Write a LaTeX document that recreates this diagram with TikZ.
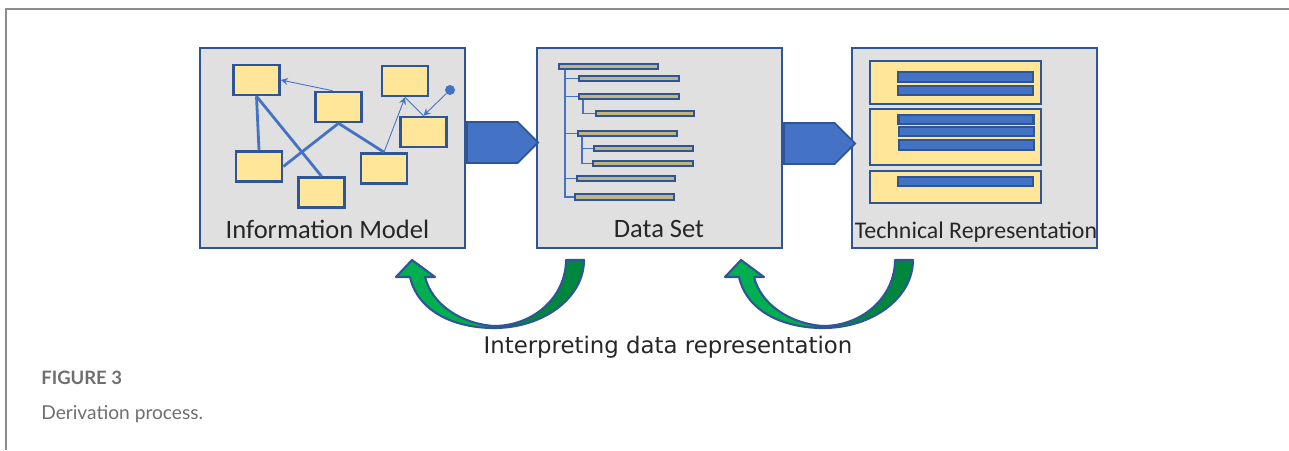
\documentclass[tikz,border=0pt]{standalone}
\usepackage{fontspec}
\setmainfont{Carlito}
\newfontfamily\notefont{DejaVu Sans}
\newfontfamily\captionfont{Lato}
\usetikzlibrary{shapes.symbols, arrows.meta, positioning, calc}
\definecolor{boxgray}{HTML}{E0E0E0}
\definecolor{edgeblue}{HTML}{2F5597}
\definecolor{fillblue}{HTML}{4472C4}
\definecolor{paleyellow}{HTML}{FFE699}
\definecolor{barcore}{HTML}{C2B57E}
\definecolor{lightgreen}{HTML}{00B050}
\definecolor{darkgreen}{HTML}{00873E}
\definecolor{framegray}{HTML}{8C8C8C}
\definecolor{captiongray}{HTML}{6E6E6E}

\begin{document}
\begin{tikzpicture}[
    x=0.02cm, y=-0.02cm,
    panel/.style={rectangle, draw=edgeblue, line width=1.4pt, fill=boxgray, minimum height=4cm, inner sep=0pt},
    entity/.style={rectangle, draw=edgeblue, line width=1.5pt, fill=paleyellow, minimum width=0.92cm, minimum height=0.6cm, inner sep=0pt},
    link/.style={draw=fillblue, line width=1.6pt},
    ref/.style={draw=fillblue, line width=0.5pt, -{Stealth[length=4pt, width=4pt]}},
    record/.style={rectangle, draw=edgeblue, line width=1.2pt, fill=barcore, minimum height=0.11cm, inner sep=0pt},
    tree/.style={draw=fillblue, line width=1.1pt},
    block/.style={rectangle, draw=edgeblue, line width=1pt, fill=paleyellow, minimum width=3.42cm, inner sep=0pt},
    field/.style={rectangle, draw=edgeblue, line width=1.2pt, fill=fillblue, minimum width=2.7cm, minimum height=0.19cm, inner sep=0pt},
    flow/.style={signal, signal to=east, draw=edgeblue, line width=1pt, fill=fillblue, minimum width=1.42cm, minimum height=0.82cm, inner sep=0pt, anchor=west},
    title/.style={anchor=base, inner sep=0pt, text=black!85},
    turn/.style={draw=edgeblue, line width=1.2pt, line join=round}
]
\useasboundingbox (0,0) rectangle (1289,450);

% Page frame
\draw[framegray, line width=1.2pt] (6,450) -- (6,9) -- (1289,9);

% Three stages
\node[panel, minimum width=5.3cm] (model) at (332.5,148) {};
\node[panel, minimum width=4.9cm] (dataset) at (659.5,148) {};
\node[panel, minimum width=4.9cm] (tech) at (974.5,148) {};

% Information model
\node[entity] (e1) at (256.5,80) {};
\node[entity] (e2) at (338.5,107) {};
\node[entity] (e3) at (405,81) {};
\node[entity] (e4) at (423.5,132) {};
\node[entity] (e5) at (259,166.5) {};
\node[entity] (e6) at (321.5,192.5) {};
\node[entity] (e7) at (384,168.5) {};
\node[circle, fill=fillblue, inner sep=0pt, minimum size=0.2cm] (origin) at (450,90) {};

\draw[link] (e1.south) -- (e5.north);
\draw[link] (e1.south) -- (e6.north);
\draw[link] (e5.east) -- (e2.south);
\draw[link] (e2.south) -- (e7.north);
\draw[ref] ([xshift=-0.12cm]e2.north) -- (e1.east);
\draw[ref] (e7.north) -- (e3.south);
\draw[draw=fillblue, line width=0.5pt] (e4.north) -- (e3.south);
\draw[ref] (origin) -- (e4.north);

% Data set
\node[record, minimum width=1.98cm] (b1) at (608.5,66.5) {};
\node[record, minimum width=2cm] (b2) at (629,78.5) {};
\node[record, minimum width=2cm] (b3) at (629,96.5) {};
\node[record, minimum width=1.96cm] (b4) at (645,113.5) {};
\node[record, minimum width=1.98cm] (b5) at (627.5,133.5) {};
\node[record, minimum width=1.98cm] (b6) at (643.5,148.5) {};
\node[record, minimum width=2cm] (b7) at (643,163.5) {};
\node[record, minimum width=1.96cm] (b8) at (626,178.5) {};
\node[record, minimum width=1.98cm] (b9) at (624.5,197) {};

\draw[tree] ([xshift=0.14cm]b1.south west) |- (b9.west);
\draw[tree] ([xshift=0.14cm]b1.south west) |- (b2.west);
\draw[tree] ([xshift=0.14cm]b1.south west) |- (b3.west);
\draw[tree] ([xshift=0.14cm]b1.south west) |- (b5.west);
\draw[tree] ([xshift=0.14cm]b1.south west) |- (b8.west);
\draw[tree] ([xshift=0.1cm]b3.south west) |- (b4.west);
\draw[tree] ([xshift=0.1cm]b5.south west) |- (b6.west);
\draw[tree] ([xshift=0.1cm]b5.south west) |- (b7.west);

% Technical representation
\node[block, minimum height=0.86cm] (p1) at (955.5,82.5) {};
\node[block, minimum height=1.12cm] (p2) at (955.5,137) {};
\node[block, minimum height=0.64cm] (p3) at (955.5,187) {};
\node[field] (f1) at (965.5,77) {};
\node[field] (f2) at (965.5,90.5) {};
\node[field] (f3) at (966,119.5) {};
\node[field] (f4) at (966.5,131.5) {};
\node[field] (f5) at (966.5,145) {};
\node[field] (f6) at (965.5,181.5) {};

% Labels
\node[title, font=\fontsize{15.1}{18}\selectfont] (modeltext) at (327.5,238) {Information Model};
\node[title, font=\fontsize{15.1}{18}\selectfont] (datatext) at (659,237) {Data Set};
\node[title, font=\fontsize{13.6}{16}\selectfont] (techtext) at (976,238) {Technical Representation};

% Derivation arrows
\node[flow] (flow1) at ([yshift=0.11cm]model.east) {};
\node[flow] (flow2) at ([yshift=0.09cm]dataset.east) {};

% Interpretation arrows
\foreach \dx in {0,329} {
  \begin{scope}[shift={(\dx,0)}]
    \path[turn, fill=darkgreen] (566,260) -- (584,260)
      .. controls (584,297.6) and (543.7,328) .. (494,328) -- (494,326)
      .. controls (533.8,326) and (566,296.5) .. (566,260) -- cycle;
    \path[turn, fill=lightgreen] (396,277) -- (412,260) -- (435,277) -- (425,277)
      .. controls (432,305) and (462,324) .. (494,326) -- (494,328)
      .. controls (455,328) and (418,312) .. (410,277) -- cycle;
  \end{scope}
}
\node[title, font=\notefont\fontsize{13}{16}\selectfont] (note) at (668,353) {Interpreting data representation};

% Caption
\node[anchor=base west, inner sep=0pt, text=captiongray, font=\captionfont\bfseries\fontsize{10.5}{12}\selectfont] (fignum) at (41,384) {FIGURE 3};
\node[anchor=base west, inner sep=0pt, text=captiongray, font=\captionfont\fontsize{10.9}{13}\selectfont] (figtext) at (41,419) {Derivation process.};

\end{tikzpicture}
\end{document}
